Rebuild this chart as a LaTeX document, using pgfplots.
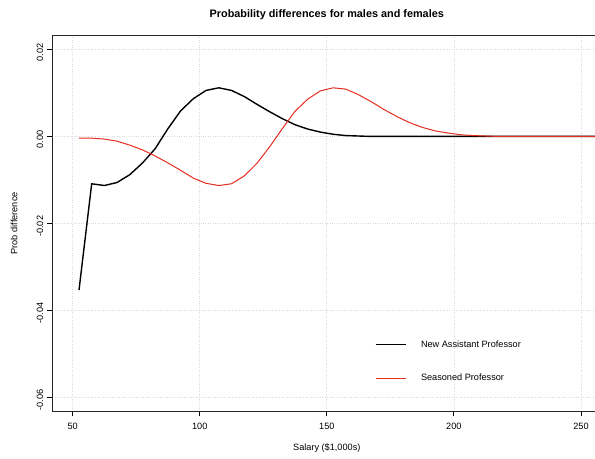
\documentclass[border=0pt]{standalone}
\usepackage{pgfplots}
\pgfplotsset{compat=1.18}
\usepackage{fontspec}
\setmainfont{Liberation Sans}
\definecolor{seasoned}{RGB}{228,45,30}
\begin{document}
\begin{tikzpicture}
\begin{axis}[
    scale only axis,
    width=549bp, height=375.2bp,
    xmin=42, xmax=258,
    ymin=-0.0632, ymax=0.0232,
    xtick={50,100,150,200,250},
    ytick={-0.06,-0.04,-0.02,0,0.02},
    scaled y ticks=false,
    /pgf/number format/assume math mode=true,
    font=\fontsize{9.2}{11}\selectfont,
    tick align=outside,
    xtick pos=bottom, ytick pos=left,
    major tick length=5.5bp,
    tick style={black, line width=0.8bp},
    axis line style={black!85, line width=0.8bp},
    yticklabel style={rotate=90, anchor=south, xshift=-3bp,
        /pgf/number format/fixed, /pgf/number format/fixed zerofill,
        /pgf/number format/precision=2},
    xticklabel style={yshift=-3bp},
    grid=major,
    grid style={dotted, gray!30, line width=0.7bp},
    title={\fontsize{10.9}{13}\selectfont\bfseries Probability differences for males and females},
    title style={at={(axis description cs:0.5,1.039)}, anchor=center},
    xlabel={Salary (\$1,000s)},
    xlabel style={at={(axis description cs:0.5,-0.1)}, anchor=center},
    ylabel={Prob difference},
    ylabel style={at={(axis description cs:-0.0698,0.5)}, anchor=center},
    legend style={draw=none, fill=none, inner sep=0pt, outer sep=0pt,
        at={(axis description cs:0.5878,0.1315)}, anchor=west,
        column sep=15bp, row sep=25bp, font=\fontsize{9.2}{11}\selectfont,
        nodes={inner sep=0pt}},
    legend cell align=left,
    legend image code/.code={\draw[#1, line width=1bp] (0bp,0bp) -- (30bp,0bp);},
]
\addplot[black, line width=1.4bp] coordinates {
    (52.5,-0.0354) (57.5,-0.0109) (62.5,-0.0113) (67.5,-0.0106) (72.5,-0.0088)
    (77.5,-0.0061) (82.5,-0.0028) (87.5,0.0018) (92.5,0.0059) (97.5,0.0087)
    (102.5,0.0106) (107.5,0.0112) (112.5,0.0106) (117.5,0.0092) (122.5,0.0074)
    (127.5,0.0057) (132.5,0.0041) (137.5,0.0027) (142.5,0.0017) (147.5,0.0010)
    (152.5,0.0005) (157.5,0.0002) (162.5,0.0001) (167.5,0) (172.5,0)
    (177.5,0) (182.5,0) (187.5,0) (192.5,0) (197.5,0) (202.5,0) (207.5,0)
    (212.5,0) (217.5,0) (222.5,0) (227.5,0) (232.5,0) (237.5,0) (242.5,0)
    (247.5,0) (252.5,0) (257.5,0)
};
\addlegendentry{New Assistant Professor}
\addplot[seasoned, line width=1bp] coordinates {
    (52.5,-0.0004) (57.5,-0.0004) (62.5,-0.0006) (67.5,-0.0011) (72.5,-0.0020)
    (77.5,-0.0031) (82.5,-0.0045) (87.5,-0.0061) (92.5,-0.0078) (97.5,-0.0096)
    (102.5,-0.0108) (107.5,-0.0113) (112.5,-0.0109) (117.5,-0.0091) (122.5,-0.0062)
    (127.5,-0.0024) (132.5,0.0018) (137.5,0.0058) (142.5,0.0086) (147.5,0.0105)
    (152.5,0.0112) (157.5,0.0109) (162.5,0.0096) (167.5,0.0080) (172.5,0.0062)
    (177.5,0.0046) (182.5,0.0032) (187.5,0.0021) (192.5,0.0013) (197.5,0.0008)
    (202.5,0.0004) (207.5,0.0002) (212.5,0.0001) (217.5,0) (222.5,0) (227.5,0)
    (232.5,0) (237.5,0) (242.5,0) (247.5,0) (252.5,0) (257.5,0)
};
\addlegendentry{Seasoned Professor}
\end{axis}
\pgfresetboundingbox
\path[use as bounding box] (-52.3bp,-47.3bp) rectangle (542.7bp,410.9bp);
\end{tikzpicture}
\end{document}
